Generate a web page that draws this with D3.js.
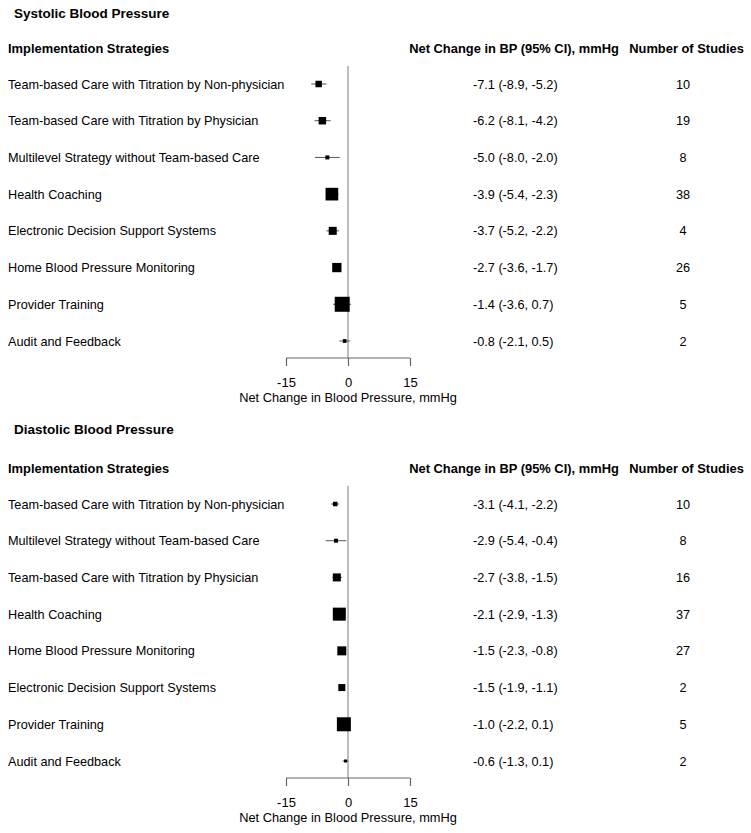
<!DOCTYPE html>
<html>
<head>
<meta charset="utf-8">
<script src="https://cdn.jsdelivr.net/npm/d3@7"></script>
<style>
  html, body { margin: 0; padding: 0; background: #fff; }
  svg text { font-family: Arial, "Liberation Sans", sans-serif; fill: #000; }
</style>
</head>
<body>
<svg id="chart" width="751" height="833"></svg>
<script>
// ---------------- DATA ----------------
const sbpTitle = "Systolic Blood Pressure";
const sbpStrategies = [
  "Team-based Care with Titration by Non-physician",
  "Team-based Care with Titration by Physician",
  "Multilevel Strategy without Team-based Care",
  "Health Coaching",
  "Electronic Decision Support Systems",
  "Home Blood Pressure Monitoring",
  "Provider Training",
  "Audit and Feedback"
];
const sbpEstimate = [-7.1, -6.2, -5.0, -3.9, -3.7, -2.7, -1.4, -0.8];
const sbpLower    = [-8.9, -8.1, -8.0, -5.4, -5.2, -3.6, -3.6, -2.1];
const sbpUpper    = [-5.2, -4.2, -2.0, -2.3, -2.2, -1.7,  0.7,  0.5];
const sbpStudies  = [10, 19, 8, 38, 4, 26, 5, 2];
const sbpWeight   = [42, 56, 16, 160, 64, 86, 225, 14];

const dbpTitle = "Diastolic Blood Pressure";
const dbpStrategies = [
  "Team-based Care with Titration by Non-physician",
  "Multilevel Strategy without Team-based Care",
  "Team-based Care with Titration by Physician",
  "Health Coaching",
  "Home Blood Pressure Monitoring",
  "Electronic Decision Support Systems",
  "Provider Training",
  "Audit and Feedback"
];
const dbpEstimate = [-3.1, -2.9, -2.7, -2.1, -1.5, -1.5, -1.0, -0.6];
const dbpLower    = [-4.1, -5.4, -3.8, -2.9, -2.3, -1.9, -2.2, -1.3];
const dbpUpper    = [-2.2, -0.4, -1.5, -1.3, -0.8, -1.1,  0.1,  0.1];
const dbpStudies  = [10, 8, 16, 37, 27, 2, 5, 2];
const dbpWeight   = [20, 16, 64, 169, 81, 49, 196, 9];

const xTicks = [-15, 0, 15];
const xTickLabels = ["-15", "0", "15"];
const headerLabel = "Implementation Strategies";
const headerCI = "Net Change in BP (95% CI), mmHg";
const headerN = "Number of Studies";
const axisTitle = "Net Change in Blood Pressure, mmHg";

// ---------------- DRAW ----------------
const svg = d3.select("#chart");
const x = d3.scaleLinear().domain([-15, 15]).range([286, 410]);
const boxSize = d3.scaleSqrt().domain([0, 225]).range([0, 15]);
const fmt1 = v => v.toFixed(1);

function panel(top, titleY, title, strategies, est, lo, hi, n, w) {
  const g = svg.append("g").attr("transform", `translate(0,${top})`);
  const rowY = d3.scalePoint().domain(d3.range(strategies.length))
    .range([84, 341]);

  g.append("text").attr("x", 14).attr("y", titleY)
    .attr("font-size", 13.5).attr("font-weight", "bold").text(title);

  g.append("text").attr("x", 8).attr("y", 53)
    .attr("font-size", 12.9).attr("font-weight", "bold").text(headerLabel);
  g.append("text").attr("x", 514).attr("y", 53).attr("text-anchor", "middle")
    .attr("font-size", 12.9).attr("font-weight", "bold").text(headerCI);
  g.append("text").attr("x", 686.5).attr("y", 53).attr("text-anchor", "middle")
    .attr("font-size", 12.9).attr("font-weight", "bold").text(headerN);

  // zero line
  g.append("line").attr("x1", x(0)).attr("x2", x(0))
    .attr("y1", 66).attr("y2", 358)
    .attr("stroke", "#9a9a9a").attr("stroke-width", 1.3);

  // axis
  const axis = d3.axisBottom(x).tickValues(xTicks).tickSize(8).tickPadding(12)
    .tickFormat((d, i) => xTickLabels[i]);
  const ag = g.append("g").attr("transform", "translate(0,358)").call(axis);
  ag.select(".domain").attr("stroke", "#666").attr("stroke-width", 1.2)
    .attr("d", `M${x(-15)},0H${x(15)}`);
  ag.selectAll(".tick line").attr("stroke", "#666").attr("stroke-width", 1.2);
  ag.selectAll(".tick text").attr("font-size", 13)
    .style("font-family", "Arial, 'Liberation Sans', sans-serif").attr("fill", "#000")
    .attr("dy", "0.71em");

  g.append("text").attr("x", x(0)).attr("y", 402).attr("text-anchor", "middle")
    .attr("font-size", 12.8).text(axisTitle);

  const rows = g.selectAll("g.row").data(strategies).join("g").attr("class", "row");
  rows.append("text").attr("x", 8).attr("y", (d, i) => rowY(i) + 4.5)
    .attr("font-size", 12.7).text(d => d);
  rows.append("line")
    .attr("x1", (d, i) => x(lo[i])).attr("x2", (d, i) => x(hi[i]))
    .attr("y1", (d, i) => rowY(i)).attr("y2", (d, i) => rowY(i))
    .attr("stroke", "#555").attr("stroke-width", 1);
  rows.append("rect")
    .attr("x", (d, i) => x(est[i]) - boxSize(w[i]) / 2)
    .attr("y", (d, i) => rowY(i) - boxSize(w[i]) / 2)
    .attr("width", (d, i) => boxSize(w[i]))
    .attr("height", (d, i) => boxSize(w[i]))
    .attr("fill", "#000");
  rows.append("text").attr("x", 473).attr("y", (d, i) => rowY(i) + 4.5)
    .attr("font-size", 12.7)
    .text((d, i) => `${fmt1(est[i])} (${fmt1(lo[i])}, ${fmt1(hi[i])})`);
  rows.append("text").attr("x", 683).attr("y", (d, i) => rowY(i) + 4.5)
    .attr("text-anchor", "middle").attr("font-size", 12.7)
    .text((d, i) => n[i]);
}

panel(0, 18, sbpTitle, sbpStrategies, sbpEstimate, sbpLower, sbpUpper, sbpStudies, sbpWeight);
panel(420, 14, dbpTitle, dbpStrategies, dbpEstimate, dbpLower, dbpUpper, dbpStudies, dbpWeight);
</script>
</body>
</html>
